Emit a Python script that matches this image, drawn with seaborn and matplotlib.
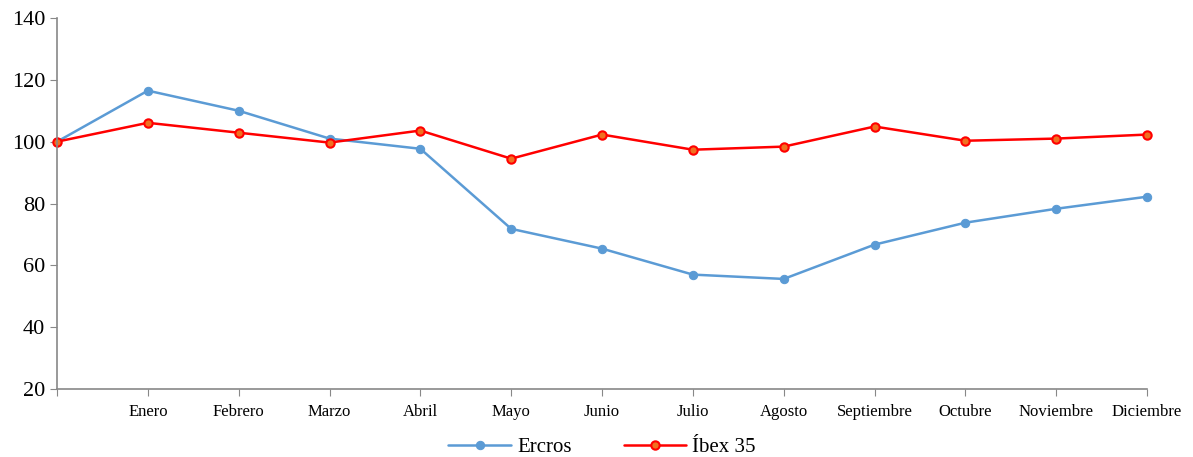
import numpy as np
import pandas as pd
import matplotlib
matplotlib.use("Agg")
import matplotlib.pyplot as plt
import seaborn as sns

# ── Data ────────────────────────────────────────────────────
meses = ["", "Enero", "Febrero", "Marzo", "Abril", "Mayo", "Junio", "Julio",
         "Agosto", "Septiembre", "Octubre", "Noviembre", "Diciembre"]
ercros = [100, 116.5, 110, 101, 97.7, 71.8, 65.4, 57, 55.6, 66.7, 73.8, 78.3, 82.2]
ibex = [100, 106.1, 102.9, 99.7, 103.6, 94.5, 102.3, 97.4, 98.4, 104.9, 100.3, 101, 102.3]

sns.set_style("white")
plt.rcParams["font.family"] = ["Liberation Serif", "DejaVu Serif"]

pos = np.arange(len(meses))
df = pd.DataFrame({"pos": pos, "Ercros": ercros, "Íbex 35": ibex})

fig = plt.figure(figsize=(11.93, 4.57), dpi=100)
ax = fig.add_axes([0.0478, 0.1488, 0.9137, 0.8118])

sns.lineplot(data=df, x="pos", y="Ercros", ax=ax, color="#5B9BD5", lw=1.8,
             marker="o", markersize=6, markeredgecolor="#5B9BD5",
             label="Ercros", clip_on=False)
sns.lineplot(data=df, x="pos", y="Íbex 35", ax=ax, color="#FF0000", lw=1.8,
             marker="o", markersize=6, markerfacecolor="#F07020",
             markeredgecolor="#FF0000", markeredgewidth=1.5,
             label="Íbex 35", clip_on=False)

ax.set_xlim(0, 12)
ax.set_ylim(20, 140)
ax.set_yticks(range(20, 141, 20))
ax.set_xticks(pos)
ax.set_xticklabels(meses, fontsize=12)
ax.tick_params(axis="y", labelsize=16, length=5, direction="out", left=True,
               color="#888888", labelcolor="black")
ax.tick_params(axis="x", length=5, direction="out", bottom=True,
               color="#888888", labelcolor="black", pad=6)
ax.set_xlabel("")
ax.set_ylabel("")
for s in ("top", "right"):
    ax.spines[s].set_visible(False)
for s in ("left", "bottom"):
    ax.spines[s].set_color("#888888")
    ax.spines[s].set_linewidth(1.2)

leg = ax.legend(loc="center", bbox_to_anchor=(0.5, -0.158), ncol=2,
                frameon=False, fontsize=15, handlelength=3, columnspacing=2.5,
                handletextpad=0.3)
for t in leg.get_texts():
    t.set_color("black")

fig.savefig("out.png", dpi=100)
